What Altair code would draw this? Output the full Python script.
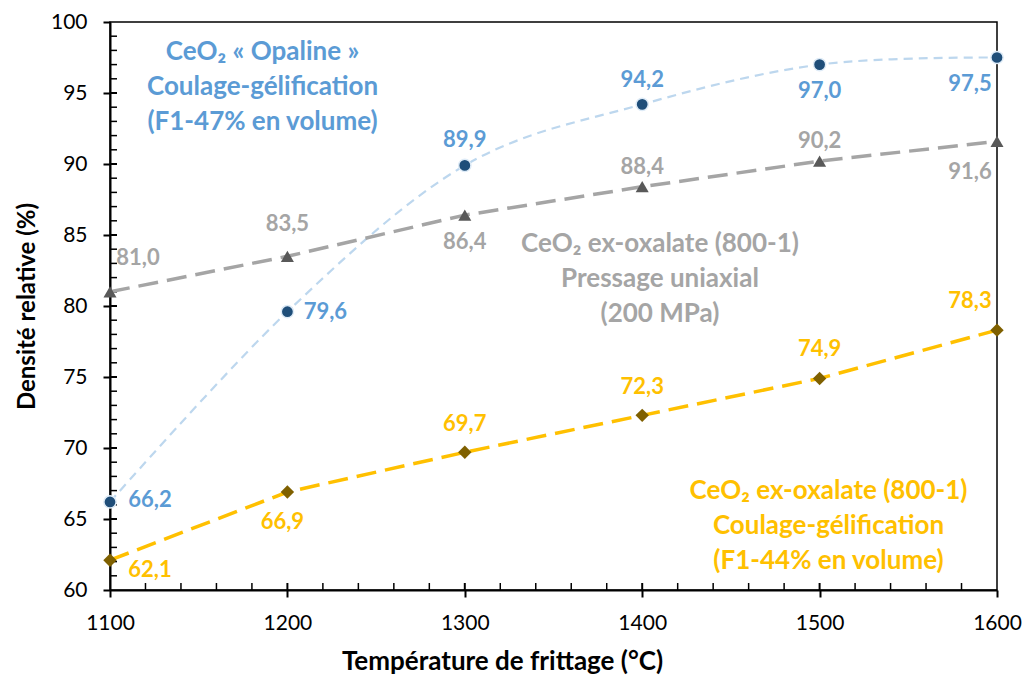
import altair as alt
import pandas as pd

# Sintering temperatures (°C)
temperatures = [1100, 1200, 1300, 1400, 1500, 1600]

# Relative density (%) for each process
opaline_gel = [66.2, 79.6, 89.9, 94.2, 97.0, 97.5]
oxalate_press = [81.0, 83.5, 86.4, 88.4, 90.2, 91.6]
oxalate_gel = [62.1, 66.9, 69.7, 72.3, 74.9, 78.3]

series_names = ["opaline", "press", "oxalate"]

# Data-label placement (pixel offsets from each point)
label_dx = {
    "opaline": [40, 38, 0, 0, 0, -27],
    "press": [28, 0, 0, 0, 0, -27],
    "oxalate": [40, -5, 0, 0, 0, -27],
}
label_dy = {
    "opaline": [-2, 0, -25, -24, 26, 26],
    "press": [-34, -32, 27, -20, -20, 31],
    "oxalate": [10, 30, -28, -28, -29, -29],
}

BLUE_TXT = "#5B9BD5"
BLUE_LINE = "#BDD7EE"
BLUE_PT = "#1F4E79"
GRAY_TXT = "#A5A5A5"
GRAY_PT = "#595959"
YEL = "#FFC000"
BROWN = "#7F6000"
FONT = "Lato"

W, H = 887, 568

rows = []
for name, vals in zip(series_names, [opaline_gel, oxalate_press, oxalate_gel]):
    for t, v in zip(temperatures, vals):
        rows.append({"series": name, "T": t, "D": v,
                     "txt": f"{v:.1f}".replace(".", ",")})
df = pd.DataFrame(rows)

xscale = alt.Scale(domain=[1100, 1600], nice=False, zero=False)
yscale = alt.Scale(domain=[60, 100], nice=False, zero=False)

x_main = alt.Axis(
    values=temperatures, format="d", title="Température de frittage (°C)", grid=False,
    domainColor="black", domainWidth=2, tickColor="black", tickWidth=2, tickSize=7,
    labelFont=FONT, labelFontSize=21, labelColor="black", labelPadding=15,
    labelFlush=False, labelOverlap=False,
    titleFont=FONT, titleFontSize=26, titleFontWeight="bold", titleColor="black",
    titlePadding=15, titleX=392, titleAlign="center",
)
y_main = alt.Axis(
    values=list(range(60, 101, 5)), format="d", title="Densité relative (%)", grid=False,
    domainColor="black", domainWidth=2, tickColor="black", tickWidth=2, tickSize=7,
    labelFont=FONT, labelFontSize=21, labelColor="black", labelPadding=16,
    labelFlush=False, labelOverlap=False,
    titleFont=FONT, titleFontSize=24, titleFontWeight="bold", titleColor="black",
    titlePadding=11,
)

base = alt.Chart(df)


def sel(name):
    return base.transform_filter(alt.datum.series == name)


enc = dict(
    x=alt.X("T:Q", scale=xscale, axis=None),
    y=alt.Y("D:Q", scale=yscale, axis=None),
)

# Layer that carries the two visible axes
axes_main = base.mark_point(opacity=0).encode(
    x=alt.X("T:Q", scale=xscale, axis=x_main),
    y=alt.Y("D:Q", scale=yscale, axis=y_main),
)

# Minor ticks pointing into the plot from the left and bottom edges
minor_y = pd.DataFrame({"v": [v for v in range(61, 100) if v % 5]})
minor_x = pd.DataFrame({"v": [v for v in range(1120, 1600, 20) if v % 100]})
ticks_y = alt.Chart(minor_y).mark_rule(color="black", strokeWidth=1.5).encode(
    y=alt.Y("v:Q", scale=yscale, axis=None),
    x=alt.value(0), x2=alt.value(7),
)
ticks_x = alt.Chart(minor_x).mark_rule(color="black", strokeWidth=1.5).encode(
    x=alt.X("v:Q", scale=xscale, axis=None),
    y=alt.value(H), y2=alt.value(H - 7),
)
# Major ticks also reach inside the plot
major_y = pd.DataFrame({"v": list(range(65, 100, 5))})
major_x = pd.DataFrame({"v": temperatures[1:-1]})
mticks_y = alt.Chart(major_y).mark_rule(color="black", strokeWidth=2).encode(
    y=alt.Y("v:Q", scale=yscale, axis=None),
    x=alt.value(0), x2=alt.value(7),
)
mticks_x = alt.Chart(major_x).mark_rule(color="black", strokeWidth=2).encode(
    x=alt.X("v:Q", scale=xscale, axis=None),
    y=alt.value(H), y2=alt.value(H - 7),
)

line_op = sel("opaline").mark_line(
    color=BLUE_LINE, strokeWidth=2.2, strokeDash=[9, 6], interpolate="cardinal"
).encode(**enc)
line_pr = sel("press").mark_line(
    color=GRAY_TXT, strokeWidth=3.5, strokeDash=[20, 9]
).encode(**enc)
line_ox = sel("oxalate").mark_line(
    color=YEL, strokeWidth=3.5, strokeDash=[20, 9]
).encode(**enc)

pts_op = sel("opaline").mark_point(
    shape="circle", filled=True, size=150, color=BLUE_PT, stroke="#DEEBF7",
    strokeWidth=1.5, opacity=1
).encode(**enc)
pts_pr = sel("press").mark_point(
    shape="triangle-up", filled=True, size=170, color=GRAY_PT, opacity=1
).encode(**enc)
pts_ox = sel("oxalate").mark_point(
    shape="diamond", filled=True, size=180, color=BROWN, opacity=1
).encode(**enc)

label_colors = {"opaline": BLUE_TXT, "press": GRAY_TXT, "oxalate": YEL}
label_layers = []
for name in series_names:
    for i, t in enumerate(temperatures):
        label_layers.append(
            base.transform_filter(
                (alt.datum.series == name) & (alt.datum.T == t)
            ).mark_text(
                font=FONT, fontSize=22, fontWeight="bold", color=label_colors[name],
                align="center", baseline="middle",
                dx=label_dx[name][i], dy=label_dy[name][i],
            ).encode(text="txt:N", **enc)
        )

# Series captions, anchored in data coordinates
captions = pd.DataFrame({
    "T": [1186, 1410, 1505],
    "D": [97.9, 84.4, 67.0],
    "lines": [
        ["CeO₂ « Opaline »", "Coulage-gélification", "(F1-47% en volume)"],
        ["CeO₂ ex-oxalate (800-1)", "Pressage uniaxial", "(200 MPa)"],
        ["CeO₂ ex-oxalate (800-1)", "Coulage-gélification", "(F1-44% en volume)"],
    ],
    "col": [BLUE_TXT, GRAY_TXT, YEL],
})
cap = alt.Chart(captions).mark_text(
    font=FONT, fontSize=26, fontWeight="bold", align="center",
    baseline="middle", lineHeight=35
).encode(
    x=alt.X("T:Q", scale=xscale, axis=None),
    y=alt.Y("D:Q", scale=yscale, axis=None),
    text="lines",
    color=alt.Color("col:N", scale=None),
)

chart = alt.layer(
    axes_main, ticks_y, ticks_x, mticks_y, mticks_x,
    line_op, line_pr, line_ox, pts_op, pts_pr, pts_ox,
    *label_layers, cap
).resolve_axis(x="independent", y="independent").properties(
    width=W, height=H,
    autosize=alt.AutoSizeParams(type="none"),
    padding={"left": 110, "top": 22, "right": 30, "bottom": 88},
    background="white",
).configure_view(stroke="black", strokeWidth=1.5)

chart.save("out.html", embed_options={"renderer": "svg", "actions": False})
